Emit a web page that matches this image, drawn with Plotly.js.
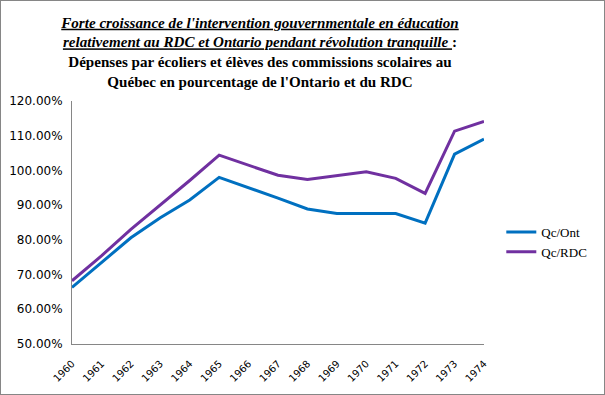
<!DOCTYPE html>
<html>
<head>
<meta charset="utf-8">
<script src="https://cdn.plot.ly/plotly-3.0.1.min.js"></script>
<style>
  html, body { margin: 0; padding: 0; background: #fff; }
  #chart { width: 603px; height: 393px; border: 1px solid #868686; }
</style>
</head>
<body>
<div id="chart"></div>
<script>
const years = ['1960','1961','1962','1963','1964','1965','1966','1967','1968','1969','1970','1971','1972','1973','1974'];
const qcOnt = [66.3, 73.4, 80.6, 86.4, 91.5, 98.0, 95.1, 92.0, 88.9, 87.6, 87.6, 87.6, 84.8, 104.7, 109.0];
const qcRdc = [68.2, 75.4, 83.0, 90.0, 97.1, 104.4, 101.5, 98.6, 97.4, 98.6, 99.6, 97.7, 93.4, 111.3, 114.1];
const seriesNames = ['Qc/Ont', 'Qc/RDC'];
const yTicks = [50, 60, 70, 80, 90, 100, 110, 120];

const titleText =
  "<i><u>Forte croissance de l'intervention gouvernmentale en éducation</u></i><br>" +
  "<i><u>relativement au RDC et Ontario pendant révolution tranquille </u></i>:<br>" +
  "Dépenses par écoliers et élèves des commissions scolaires au<br>" +
  "Québec en pourcentage de l'Ontario et du RDC";

const traces = [
  { x: years, y: qcOnt, name: seriesNames[0], type: 'scatter', mode: 'lines',
    line: { color: '#0070C0', width: 3 } },
  { x: years, y: qcRdc, name: seriesNames[1], type: 'scatter', mode: 'lines',
    line: { color: '#7030A0', width: 3 } }
];

const layout = {
  width: 603, height: 393,
  margin: { l: 71, r: 108, t: 100, b: 50 },
  paper_bgcolor: '#ffffff', plot_bgcolor: '#ffffff',
  title: {
    text: '<b>' + titleText + '</b>',
    font: { family: 'Liberation Serif, serif', size: 15.1, color: '#000' },
    xref: 'container', x: 0.4295, xanchor: 'center',
    yref: 'container', y: 0.932, yanchor: 'top'
  },
  xaxis: {
    type: 'category',
    tickangle: -45,
    showgrid: false, zeroline: false,
    showline: true, linecolor: '#868686', linewidth: 1,
    ticks: '',
    ticklabelstandoff: 9,
    tickfont: { family: 'DejaVu Sans, sans-serif', size: 10, color: '#000' }
  },
  yaxis: {
    range: [50, 120],
    tickvals: yTicks,
    ticktext: yTicks.map(v => v.toFixed(2) + '%'),
    showgrid: false, zeroline: false,
    showline: true, linecolor: '#868686', linewidth: 1,
    ticks: '',
    ticklabelstandoff: 6,
    tickfont: { family: 'DejaVu Sans, sans-serif', size: 12, color: '#000' }
  },
  legend: {
    x: 1.042, xanchor: 'left', y: 0.42, yanchor: 'middle',
    font: { family: 'Liberation Serif, serif', size: 13, color: '#000' },
    bgcolor: 'rgba(0,0,0,0)'
  },
  showlegend: true
};

Plotly.newPlot('chart', traces, layout, { displayModeBar: false, staticPlot: true });
</script>
</body>
</html>
